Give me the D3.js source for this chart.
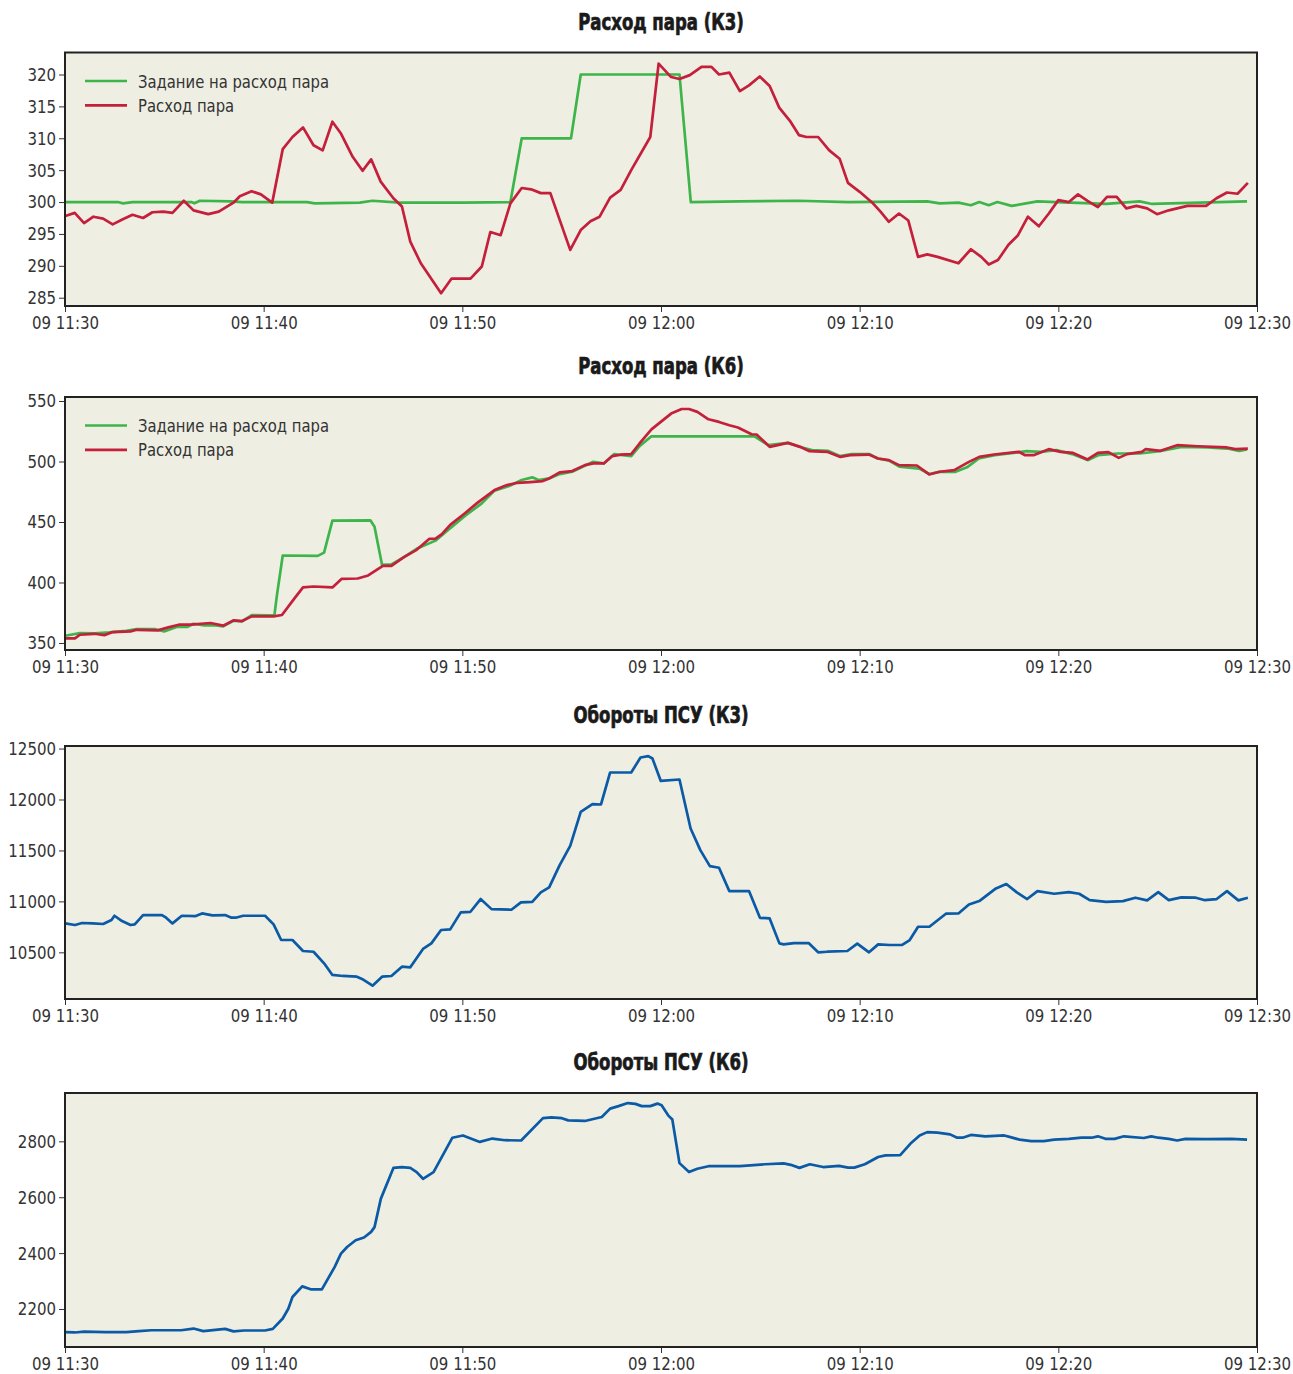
<!DOCTYPE html>
<html><head><meta charset="utf-8">
<script src="https://cdn.jsdelivr.net/npm/d3@7"></script>
<style>
html,body{margin:0;padding:0;background:#fff;}
svg{display:block;}
.tick text{font-family:"DejaVu Sans Condensed","DejaVu Sans",sans-serif;font-stretch:condensed;font-size:18.5px;fill:#333;}
.title{font-family:"DejaVu Sans Condensed","DejaVu Sans",sans-serif;font-stretch:condensed;font-weight:bold;font-size:23px;fill:#1a1a1a;stroke:#1a1a1a;stroke-width:0.7px;}
.leg{font-family:"DejaVu Sans Condensed","DejaVu Sans",sans-serif;font-stretch:condensed;font-size:18.5px;fill:#333;}
</style></head>
<body>
<script>
// ---------- DATA (minutes after 09 11:30, value) ----------
const tickMinutes = [0, 10, 20, 30, 40, 50, 60];
const tickLabels = ["09 11:30","09 11:40","09 11:50","09 12:00","09 12:10","09 12:20","09 12:30"];
const titles = ["Расход пара (К3)","Расход пара (К6)","Обороты ПСУ (К3)","Обороты ПСУ (К6)"];
const legendLabels = ["Задание на расход пара","Расход пара"];

const k3FlowTicks = [285,290,295,300,305,310,315,320];
const k6FlowTicks = [350,400,450,500,550];
const k3RpmTicks = [10500,11000,11500,12000,12500];
const k6RpmTicks = [2200,2400,2600,2800];

const k3FlowSet = [[0.01,300.0],[2.66,300.0],[2.92,299.8],[3.40,300.0],[6.36,300.0],[6.51,299.8],[6.79,300.2],[8.34,300.1],[8.91,300.0],[12.19,300.0],[12.57,299.8],[14.84,299.9],[15.47,300.2],[16.85,299.9],[20.02,299.9],[22.42,300.0],[22.99,310.0],[25.47,310.0],[25.96,320.0],[30.93,320.0],[31.50,300.0],[33.97,300.1],[36.9,300.2],[39.41,300.0],[43.40,300.1],[44.03,299.8],[44.97,299.9],[45.60,299.5],[46.02,300.0],[46.50,299.5],[46.93,300.0],[47.65,299.4],[48.95,300.1],[49.90,300.0],[52.41,299.7],[54.09,300.1],[54.72,299.7],[59.5,300.1]];

const k3Flow = [[0.01,297.8],[0.49,298.3],[0.96,296.7],[1.43,297.7],[1.92,297.4],[2.40,296.5],[2.91,297.3],[3.40,298.0],[3.93,297.5],[4.40,298.4],[4.95,298.5],[5.41,298.3],[5.98,300.2],[6.47,298.7],[7.21,298.1],[7.74,298.5],[8.48,299.9],[8.80,300.9],[9.39,301.7],[9.86,301.2],[10.43,299.9],[10.96,308.3],[11.45,310.2],[11.98,311.7],[12.51,308.9],[12.97,308.1],[13.46,312.6],[13.88,310.8],[14.48,307.1],[14.98,304.9],[15.41,306.7],[15.89,303.2],[16.53,300.6],[16.96,299.3],[17.38,293.8],[17.91,290.4],[18.93,285.7],[19.46,288.0],[20.41,288.0],[20.98,289.9],[21.41,295.3],[21.93,294.8],[22.42,299.8],[22.99,302.2],[23.46,302.0],[23.95,301.4],[24.43,301.4],[24.90,297.2],[25.43,292.5],[25.96,295.6],[26.45,297.0],[26.91,297.7],[27.44,300.7],[27.97,301.9],[28.50,305.0],[29.46,310.2],[29.88,321.7],[30.51,319.6],[30.93,319.3],[31.45,319.9],[32.04,321.2],[32.54,321.2],[32.92,320.0],[33.44,320.3],[33.97,317.4],[34.43,318.3],[34.97,319.7],[35.47,318.2],[35.95,314.8],[36.52,312.6],[36.94,310.5],[37.32,310.2],[37.91,310.2],[38.47,308.1],[38.99,306.8],[39.41,303.0],[40.00,301.6],[40.67,299.8],[41.05,298.5],[41.47,296.9],[41.98,298.2],[42.45,297.1],[42.94,291.4],[43.40,291.8],[43.92,291.4],[44.97,290.4],[45.60,292.6],[46.12,291.4],[46.50,290.2],[46.96,290.9],[47.49,293.3],[47.97,294.8],[48.47,297.7],[49.02,296.2],[49.52,298.2],[50.00,300.3],[50.53,300.0],[50.99,301.2],[51.47,300.2],[51.99,299.2],[52.45,300.8],[52.94,300.8],[53.42,299.0],[53.93,299.4],[54.47,299.0],[54.97,298.1],[55.56,298.7],[56.50,299.4],[57.44,299.4],[57.96,300.6],[58.49,301.5],[59.02,301.3],[59.54,303.0]];

const k6FlowSet = [[0.01,356.0],[0.75,358.1],[1.49,358.0],[2.23,358.7],[3.08,360.0],[3.61,361.4],[4.56,361.4],[4.99,359.6],[5.62,363.2],[6.15,363.2],[6.47,365.9],[7.00,364.6],[7.53,364.8],[7.96,363.7],[8.48,368.4],[8.91,367.8],[9.40,373.1],[10.29,372.8],[10.54,372.8],[10.67,389.8],[10.96,422.3],[12.72,422.0],[13.04,424.7],[13.46,451.1],[15.37,451.4],[15.58,446.1],[15.96,414.5],[16.43,415.0],[17.06,421.0],[17.70,427.8],[18.65,434.6],[19.18,442.0],[20.13,455.0],[20.98,465.4],[21.62,475.9],[22.36,479.7],[22.99,484.7],[23.52,486.9],[23.84,484.7],[24.37,486.0],[24.90,489.6],[25.53,491.5],[26.59,499.8],[27.12,498.4],[27.65,506.1],[28.50,504.5],[28.92,512.7],[29.52,520.8],[34.7,520.8],[35.4,513.5],[36.4,515.4],[37.1,511.6],[37.6,509.4],[38.4,508.8],[39.0,504.5],[39.6,506.1],[40.5,506.1],[40.9,502.5],[41.5,500.6],[42.0,495.7],[43.0,494.1],[43.5,489.7],[44.0,491.4],[44.8,491.4],[45.4,495.2],[46.0,502.5],[46.8,505.2],[48.4,508.5],[49.1,508.0],[49.9,509.4],[50.7,506.1],[51.5,501.1],[52.0,505.2],[53.0,506.6],[54.1,506.6],[55.1,508.5],[56.2,512.1],[57.5,511.6],[58.5,510.7],[59.1,508.8],[59.5,509.9]];

const k6Flow = [[0.01,353.8],[0.50,353.8],[0.75,356.8],[1.49,357.6],[1.98,356.5],[2.40,359.0],[3.30,359.6],[3.61,360.9],[4.67,360.4],[5.20,362.9],[5.73,365.1],[6.36,365.1],[7.32,366.5],[7.96,364.3],[8.48,368.7],[8.91,368.1],[9.40,372.0],[10.50,372.0],[10.92,373.1],[11.56,387.1],[11.98,395.9],[12.51,396.7],[13.46,395.9],[13.93,403.0],[14.73,403.3],[15.26,405.8],[16.00,413.8],[16.43,413.8],[17.06,420.9],[17.70,427.0],[18.33,436.0],[18.65,436.3],[18.97,439.9],[19.39,447.6],[20.13,457.2],[20.77,466.0],[21.62,476.4],[22.25,480.5],[22.78,482.4],[23.41,483.0],[24.05,483.8],[24.37,486.0],[24.90,491.0],[25.53,492.1],[26.17,497.0],[26.59,498.4],[27.12,498.4],[27.55,504.5],[27.97,505.6],[28.50,506.1],[28.92,514.9],[29.52,526.5],[29.99,532.7],[30.51,539.6],[31.04,543.4],[31.41,543.4],[31.83,541.0],[32.39,534.9],[32.92,532.7],[33.44,530.0],[33.87,528.1],[34.56,522.5],[34.81,522.3],[35.47,512.1],[36.38,515.4],[37.00,512.1],[37.48,508.5],[38.36,508.0],[39.03,503.8],[39.52,505.2],[40.46,505.7],[40.93,502.5],[41.47,501.1],[41.98,497.0],[42.88,496.7],[43.50,489.3],[44.03,491.5],[44.76,492.9],[45.50,499.7],[46.02,503.8],[46.76,505.8],[48.01,508.0],[48.33,505.2],[48.75,505.2],[49.52,510.2],[50.11,508.0],[50.74,507.1],[51.47,501.7],[51.99,507.1],[52.52,507.7],[53.04,503.0],[53.46,506.1],[54.20,508.0],[54.40,510.2],[55.14,508.8],[55.98,513.5],[57.03,512.6],[58.49,511.6],[58.91,510.2],[59.54,510.7]];

const k3Rpm = [[0.01,10784],[0.50,10768],[0.86,10788],[1.39,10784],[1.92,10778],[2.34,10817],[2.49,10859],[2.87,10807],[3.30,10768],[3.51,10774],[3.93,10866],[4.88,10866],[5.09,10840],[5.41,10784],[5.88,10859],[6.58,10856],[6.90,10882],[7.42,10862],[8.06,10866],[8.38,10840],[8.59,10840],[8.97,10859],[10.07,10859],[10.50,10774],[10.88,10621],[11.45,10621],[11.98,10513],[12.51,10506],[13.04,10392],[13.46,10278],[13.99,10268],[14.69,10261],[14.95,10239],[15.48,10173],[15.96,10261],[16.43,10268],[16.96,10359],[17.38,10353],[18.02,10533],[18.44,10588],[18.93,10719],[19.39,10725],[19.92,10892],[20.41,10898],[20.92,11023],[21.47,10924],[22.47,10918],[22.95,10990],[23.52,10996],[23.95,11088],[24.37,11137],[24.90,11356],[25.43,11545],[25.96,11879],[26.55,11954],[26.98,11951],[27.44,12265],[28.50,12265],[28.97,12412],[29.36,12425],[29.57,12402],[29.99,12182],[30.93,12196],[31.49,11716],[31.98,11503],[32.46,11346],[32.92,11330],[33.44,11101],[34.43,11101],[34.98,10839],[35.47,10833],[35.96,10588],[36.17,10578],[36.69,10591],[37.43,10591],[37.91,10500],[38.37,10506],[39.38,10513],[39.88,10585],[40.47,10500],[40.93,10578],[41.51,10572],[42.14,10572],[42.52,10621],[42.94,10751],[43.51,10751],[44.34,10879],[44.97,10882],[45.50,10970],[46.02,11003],[46.86,11127],[47.38,11170],[47.91,11088],[48.43,11023],[48.95,11101],[49.79,11075],[50.53,11091],[51.05,11075],[51.58,11013],[52.41,10996],[53.25,11003],[53.88,11036],[54.47,11010],[55.03,11091],[55.56,11013],[56.19,11039],[56.92,11036],[57.34,11013],[57.97,11023],[58.49,11101],[59.06,11010],[59.54,11036]];

const k6Rpm = [[0.01,2117],[0.50,2116],[0.96,2119],[2.03,2117],[3.09,2117],[3.72,2121],[4.35,2124],[5.84,2124],[6.47,2130],[6.96,2121],[8.06,2129],[8.48,2120],[9.01,2123],[10.07,2123],[10.46,2129],[10.96,2166],[11.24,2201],[11.45,2243],[11.94,2281],[12.40,2270],[12.93,2270],[13.57,2350],[13.89,2398],[14.20,2422],[14.63,2446],[15.05,2456],[15.41,2476],[15.58,2493],[15.90,2595],[16.53,2705],[16.96,2708],[17.38,2705],[17.70,2690],[18.02,2666],[18.55,2690],[19.50,2813],[20.03,2821],[20.88,2798],[21.51,2810],[22.15,2804],[22.96,2803],[24.06,2883],[24.48,2886],[25.01,2883],[25.33,2875],[26.17,2873],[27.02,2887],[27.44,2917],[27.86,2926],[28.33,2937],[28.71,2934],[29.03,2926],[29.46,2926],[29.82,2935],[30.03,2929],[30.36,2893],[30.57,2878],[30.93,2722],[31.41,2690],[31.83,2702],[32.39,2711],[33.97,2711],[35.23,2718],[36.17,2721],[36.53,2716],[36.97,2705],[37.49,2718],[38.16,2708],[38.96,2712],[39.42,2706],[39.73,2706],[40.26,2718],[40.93,2744],[41.30,2750],[42.04,2751],[42.56,2792],[43.02,2821],[43.40,2833],[43.92,2831],[44.55,2825],[44.91,2813],[45.18,2813],[45.60,2823],[46.33,2818],[47.28,2821],[47.59,2815],[48.05,2806],[48.64,2801],[49.27,2801],[49.79,2806],[50.53,2809],[51.16,2813],[51.68,2813],[51.99,2818],[52.37,2809],[52.83,2809],[53.30,2818],[54.30,2812],[54.68,2818],[55.03,2813],[55.56,2809],[55.98,2803],[56.40,2809],[57.44,2808],[58.70,2809],[59.50,2806]];

// ---------- RENDER ----------
const W = 1293, H = 1374;
const X0 = 65, X1 = 1257;
const GREEN = "#3db54a", RED = "#c41f3b", BLUE = "#0b5aa6", BG = "#efeee3";
const T0 = new Date(2000, 0, 9, 11, 30);
const toDate = m => new Date(T0.getTime() + m * 60000);

const svg = d3.select("body").append("svg").attr("width", W).attr("height", H);
const x = d3.scaleTime().domain([toDate(0), toDate(60)]).range([X0, X1]);

const panels = [
  {title: titles[0], top: 52.5, bottom: 306, domain: [283.7, 323.45], ticks: k3FlowTicks, series: [[k3FlowSet, GREEN], [k3Flow, RED]], legend: true},
  {title: titles[1], top: 397, bottom: 650, domain: [344.2, 553.3], ticks: k6FlowTicks, series: [[k6FlowSet, GREEN], [k6Flow, RED]], legend: true},
  {title: titles[2], top: 746, bottom: 999, domain: [10042, 12525], ticks: k3RpmTicks, series: [[k3Rpm, BLUE]], legend: false},
  {title: titles[3], top: 1093, bottom: 1347, domain: [2064, 2973], ticks: k6RpmTicks, series: [[k6Rpm, BLUE]], legend: false}
];

panels.forEach(p => {
  const g = svg.append("g");
  const y = d3.scaleLinear().domain(p.domain).range([p.bottom, p.top]);
  g.append("rect").attr("x", X0).attr("y", p.top).attr("width", X1 - X0).attr("height", p.bottom - p.top)
    .attr("fill", BG);
  g.append("text").attr("class", "title").attr("x", (X0 + X1) / 2).attr("y", p.top - 23)
    .attr("text-anchor", "middle").text(p.title);

  const line = d3.line().x(d => x(toDate(d[0]))).y(d => y(d[1]));
  const clipId = "clip" + Math.round(p.top);
  g.append("clipPath").attr("id", clipId).append("rect")
    .attr("x", X0).attr("y", p.top).attr("width", X1 - X0).attr("height", p.bottom - p.top);
  p.series.forEach(([data, color]) => {
    g.append("path").datum(data).attr("d", line).attr("fill", "none")
      .attr("stroke", color).attr("stroke-width", 2.7).attr("stroke-linejoin", "round")
      .attr("clip-path", `url(#${clipId})`);
  });

  const yAxis = g.append("g").attr("transform", `translate(${X0},0)`)
    .call(d3.axisLeft(y).tickValues(p.ticks).tickSize(6).tickPadding(3).tickFormat(d3.format("d")));
  yAxis.select(".domain").remove();
  yAxis.selectAll(".tick line").attr("stroke", "#333");

  const xAxis = g.append("g").attr("transform", `translate(0,${p.bottom})`)
    .call(d3.axisBottom(x).tickValues(tickMinutes.map(toDate)).tickSize(6).tickPadding(4)
      .tickFormat((d, i) => tickLabels[i]));
  xAxis.select(".domain").remove();
  xAxis.selectAll(".tick line").attr("stroke", "#333");

  g.append("rect").attr("x", X0).attr("y", p.top).attr("width", X1 - X0).attr("height", p.bottom - p.top)
    .attr("fill", "none").attr("stroke", "#222").attr("stroke-width", 2);

  if (p.legend) {
    [[legendLabels[0], GREEN, 28.5], [legendLabels[1], RED, 52.8]].forEach(([lab, col, dy]) => {
      g.append("line").attr("x1", 85).attr("x2", 127).attr("y1", p.top + dy).attr("y2", p.top + dy)
        .attr("stroke", col).attr("stroke-width", 2.7);
      g.append("text").attr("class", "leg").attr("x", 138).attr("y", p.top + dy + 6.5).text(lab);
    });
  }
});

// condense text horizontally to match the narrow typeface of the original
function squeeze(sel, refText, target) {
  const nodes = sel.nodes();
  const ref = nodes.find(n => n.textContent === refText) || nodes[0];
  const ratio = target / ref.getComputedTextLength();
  if (ratio >= 0.98) return;
  nodes.forEach(n => {
    const w = n.getComputedTextLength();
    d3.select(n).attr("textLength", w * ratio).attr("lengthAdjust", "spacingAndGlyphs");
  });
}
squeeze(svg.selectAll(".tick text"), "09 11:30", 67);
squeeze(svg.selectAll(".title"), "Обороты ПСУ (К3)", 175);
squeeze(svg.selectAll(".leg"), "Задание на расход пара", 191);
</script>
</body></html>
